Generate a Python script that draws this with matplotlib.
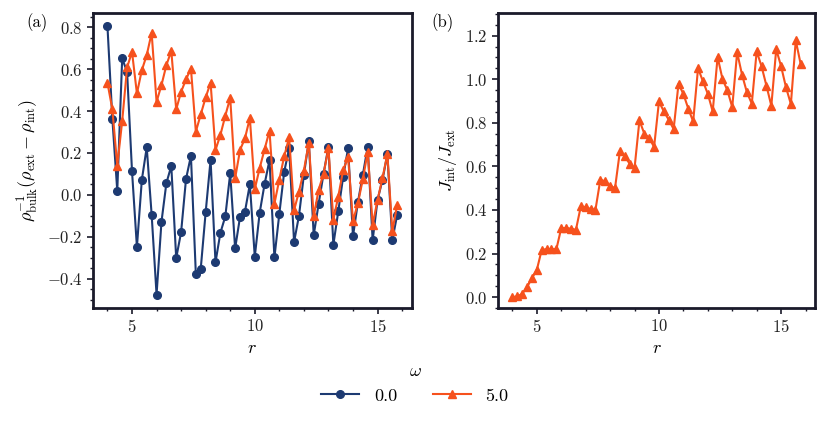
import numpy as np
import matplotlib
matplotlib.use("Agg")
import matplotlib.pyplot as plt
from matplotlib.ticker import MultipleLocator

plt.rcParams['font.family'] = 'serif'
plt.rcParams['font.serif'] = ['cmr10']
plt.rcParams['mathtext.fontset'] = 'cm'
plt.rcParams['axes.formatter.use_mathtext'] = True
plt.rcParams['font.size'] = 12

# radial positions (same for every series)
r = np.round(np.arange(4.0, 15.81, 0.2), 1)

# density difference, omega = 0.0
rho_w0 = [0.805, 0.363, 0.019, 0.651, 0.587, 0.114, -0.249, 0.071, 0.227, -0.095,
          -0.476, -0.129, 0.056, 0.138, -0.302, -0.178, 0.076, 0.186, -0.378, -0.352,
          -0.083, 0.167, -0.322, -0.181, -0.103, 0.103, -0.256, -0.105, -0.080, 0.051,
          -0.295, -0.085, 0.052, 0.166, -0.299, -0.090, 0.111, 0.222, -0.225, -0.100,
          0.095, 0.257, -0.193, -0.043, 0.100, 0.230, -0.238, -0.079, 0.087, 0.222,
          -0.198, -0.035, 0.095, 0.230, -0.217, -0.024, 0.071, 0.195, -0.217, -0.095]

# density difference, omega = 5.0
rho_w5 = [0.535, 0.408, 0.140, 0.352, 0.608, 0.683, 0.484, 0.595, 0.667, 0.773,
          0.444, 0.524, 0.619, 0.687, 0.408, 0.492, 0.551, 0.603, 0.302, 0.384,
          0.465, 0.535, 0.214, 0.286, 0.378, 0.463, 0.079, 0.214, 0.270, 0.367,
          0.027, 0.128, 0.218, 0.306, -0.042, 0.073, 0.185, 0.274, -0.074, 0.016,
          0.116, 0.249, -0.103, 0.024, 0.100, 0.222, -0.119, -0.008, 0.119, 0.179,
          -0.124, -0.040, 0.074, 0.206, -0.143, -0.024, 0.079, 0.195, -0.174, -0.048]

# current ratio, omega = 5.0
j_w5 = [0.000, 0.003, 0.015, 0.046, 0.087, 0.125, 0.217, 0.220, 0.220, 0.220,
        0.317, 0.317, 0.314, 0.309, 0.416, 0.413, 0.404, 0.401, 0.539, 0.531,
        0.511, 0.500, 0.669, 0.646, 0.612, 0.592, 0.811, 0.750, 0.730, 0.689,
        0.898, 0.852, 0.814, 0.771, 0.979, 0.932, 0.865, 0.806, 1.051, 0.990,
        0.933, 0.852, 1.102, 1.001, 0.949, 0.872, 1.123, 1.021, 0.940, 0.888,
        1.128, 1.059, 0.970, 0.878, 1.138, 1.059, 0.963, 0.886, 1.178, 1.070]

omega_labels = ['0.0', '5.0']
c_blue = '#1d3a72'
c_orange = '#f6511d'
spine_col = '#1a1a2a'

fig = plt.figure(figsize=(8.3, 4.26), dpi=100)
ax1 = fig.add_axes([0.112, 0.277, 0.384, 0.693])
ax2 = fig.add_axes([0.600, 0.277, 0.382, 0.693])

l1, = ax1.plot(r, rho_w0, '-o', color=c_blue, lw=1.5, ms=5.5, label=omega_labels[0])
l2, = ax1.plot(r, rho_w5, '-^', color=c_orange, lw=1.5, ms=6, label=omega_labels[1])
ax2.plot(r, j_w5, '-^', color=c_orange, lw=1.5, ms=6)

ax1.set_ylabel(r'$\rho_{\rm bulk}^{-1}(\rho_{\rm ext} - \rho_{\rm int})$', fontsize=13)
ax2.set_ylabel(r'$J_{\rm int}/J_{\rm ext}$', fontsize=13)
ax2.set_ylim(-0.05, 1.305)

for ax in (ax1, ax2):
    ax.set_xlabel(r'$r$', fontsize=13)
    ax.xaxis.set_major_locator(MultipleLocator(5))
    ax.xaxis.set_minor_locator(MultipleLocator(1))
    ax.yaxis.set_major_locator(MultipleLocator(0.2))
    ax.yaxis.set_minor_locator(MultipleLocator(0.05))
    ax.tick_params(which='major', direction='out', length=4, width=1.2, colors=spine_col,
                   labelcolor='#222222', labelsize=12)
    ax.tick_params(which='minor', direction='out', length=2.5, width=1.0, colors=spine_col)
    for s in ax.spines.values():
        s.set_linewidth(2.0)
        s.set_color(spine_col)

fig.text(0.045, 0.948, '(a)', fontsize=12, ha='center', va='center')
fig.text(0.533, 0.948, '(b)', fontsize=12, ha='center', va='center')

fig.legend(handles=[l1, l2], title=r'$\omega$', ncol=2, loc='lower center',
           bbox_to_anchor=(0.5, 0.014), frameon=False, fontsize=13,
           title_fontsize=13, handlelength=2.1, handletextpad=0.8, columnspacing=2.0)

fig.savefig('out.png', dpi=100)
